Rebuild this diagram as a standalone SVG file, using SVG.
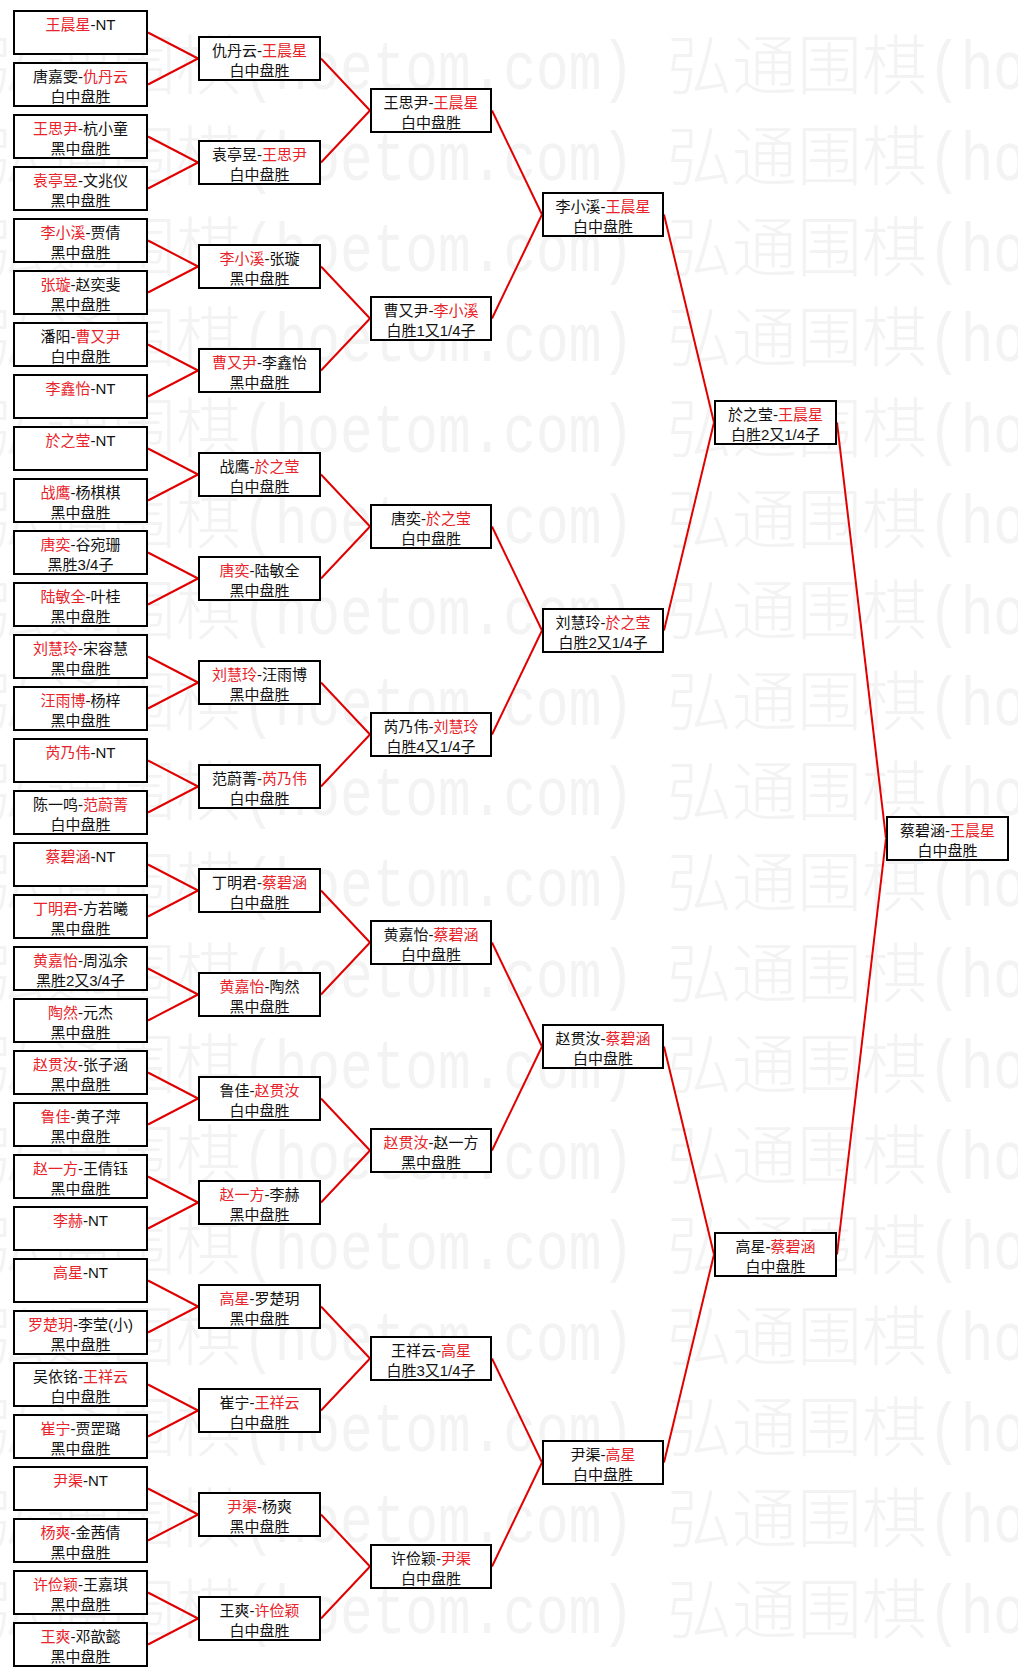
<svg xmlns="http://www.w3.org/2000/svg" xmlns:xlink="http://www.w3.org/1999/xlink" width="1018" height="1677" viewBox="0 0 1018 1677">
<style>
.b{fill:#fff;stroke:#000;stroke-width:2}
.t{font-family:'Liberation Sans','Noto Sans CJK SC',sans-serif;font-size:15px;fill:#111;text-anchor:middle}
.r{fill:#e8232a}
.wmc{font-family:'Noto Sans CJK SC',sans-serif;font-size:65px;font-weight:300;fill:#f3f3f3}
.wml{font-family:'Liberation Mono','Noto Sans CJK SC',monospace;font-size:68px;fill:#f3f3f3}
#connectors line{stroke:#e00000;stroke-width:2}
</style>
<defs>
<g id="wm">
<text class="wmc" x="-19" y="0">弘通围棋</text>
<text class="wml" x="242" y="0" textLength="392" lengthAdjust="spacingAndGlyphs">(hoetom.com)</text>
<text class="wmc" x="667" y="0">弘通围棋</text>
<text class="wml" x="928" y="0" textLength="392" lengthAdjust="spacingAndGlyphs">(hoetom.com)</text>
</g>
</defs>
<rect width="1018" height="1677" fill="#fff"/>
<g id="watermark">
<use xlink:href="#wm" y="89"/>
<use xlink:href="#wm" y="179.8"/>
<use xlink:href="#wm" y="270.6"/>
<use xlink:href="#wm" y="361.4"/>
<use xlink:href="#wm" y="452.2"/>
<use xlink:href="#wm" y="543"/>
<use xlink:href="#wm" y="633.8"/>
<use xlink:href="#wm" y="724.6"/>
<use xlink:href="#wm" y="815.4"/>
<use xlink:href="#wm" y="906.2"/>
<use xlink:href="#wm" y="997"/>
<use xlink:href="#wm" y="1087.8"/>
<use xlink:href="#wm" y="1178.6"/>
<use xlink:href="#wm" y="1269.4"/>
<use xlink:href="#wm" y="1360.2"/>
<use xlink:href="#wm" y="1451"/>
<use xlink:href="#wm" y="1541.8"/>
<use xlink:href="#wm" y="1632.6"/>
</g>
<g id="connectors">
<line x1="148" y1="32.5" x2="198" y2="58.5"/><line x1="148" y1="84.5" x2="198" y2="58.5"/>
<line x1="148" y1="136.5" x2="198" y2="162.5"/><line x1="148" y1="188.5" x2="198" y2="162.5"/>
<line x1="148" y1="240.5" x2="198" y2="266.5"/><line x1="148" y1="292.5" x2="198" y2="266.5"/>
<line x1="148" y1="344.5" x2="198" y2="370.5"/><line x1="148" y1="396.5" x2="198" y2="370.5"/>
<line x1="148" y1="448.5" x2="198" y2="474.5"/><line x1="148" y1="500.5" x2="198" y2="474.5"/>
<line x1="148" y1="552.5" x2="198" y2="578.5"/><line x1="148" y1="604.5" x2="198" y2="578.5"/>
<line x1="148" y1="656.5" x2="198" y2="682.5"/><line x1="148" y1="708.5" x2="198" y2="682.5"/>
<line x1="148" y1="760.5" x2="198" y2="786.5"/><line x1="148" y1="812.5" x2="198" y2="786.5"/>
<line x1="148" y1="864.5" x2="198" y2="890.5"/><line x1="148" y1="916.5" x2="198" y2="890.5"/>
<line x1="148" y1="968.5" x2="198" y2="994.5"/><line x1="148" y1="1020.5" x2="198" y2="994.5"/>
<line x1="148" y1="1072.5" x2="198" y2="1098.5"/><line x1="148" y1="1124.5" x2="198" y2="1098.5"/>
<line x1="148" y1="1176.5" x2="198" y2="1202.5"/><line x1="148" y1="1228.5" x2="198" y2="1202.5"/>
<line x1="148" y1="1280.5" x2="198" y2="1306.5"/><line x1="148" y1="1332.5" x2="198" y2="1306.5"/>
<line x1="148" y1="1384.5" x2="198" y2="1410.5"/><line x1="148" y1="1436.5" x2="198" y2="1410.5"/>
<line x1="148" y1="1488.5" x2="198" y2="1514.5"/><line x1="148" y1="1540.5" x2="198" y2="1514.5"/>
<line x1="148" y1="1592.5" x2="198" y2="1618.5"/><line x1="148" y1="1644.5" x2="198" y2="1618.5"/>
<line x1="321" y1="58.5" x2="370" y2="110.5"/><line x1="321" y1="162.5" x2="370" y2="110.5"/>
<line x1="321" y1="266.5" x2="370" y2="318.5"/><line x1="321" y1="370.5" x2="370" y2="318.5"/>
<line x1="321" y1="474.5" x2="370" y2="526.5"/><line x1="321" y1="578.5" x2="370" y2="526.5"/>
<line x1="321" y1="682.5" x2="370" y2="734.5"/><line x1="321" y1="786.5" x2="370" y2="734.5"/>
<line x1="321" y1="890.5" x2="370" y2="942.5"/><line x1="321" y1="994.5" x2="370" y2="942.5"/>
<line x1="321" y1="1098.5" x2="370" y2="1150.5"/><line x1="321" y1="1202.5" x2="370" y2="1150.5"/>
<line x1="321" y1="1306.5" x2="370" y2="1358.5"/><line x1="321" y1="1410.5" x2="370" y2="1358.5"/>
<line x1="321" y1="1514.5" x2="370" y2="1566.5"/><line x1="321" y1="1618.5" x2="370" y2="1566.5"/>
<line x1="492" y1="110.5" x2="542" y2="214.5"/><line x1="492" y1="318.5" x2="542" y2="214.5"/>
<line x1="492" y1="526.5" x2="542" y2="630.5"/><line x1="492" y1="734.5" x2="542" y2="630.5"/>
<line x1="492" y1="942.5" x2="542" y2="1046.5"/><line x1="492" y1="1150.5" x2="542" y2="1046.5"/>
<line x1="492" y1="1358.5" x2="542" y2="1462.5"/><line x1="492" y1="1566.5" x2="542" y2="1462.5"/>
<line x1="664" y1="214.5" x2="714" y2="422.5"/><line x1="664" y1="630.5" x2="714" y2="422.5"/>
<line x1="664" y1="1046.5" x2="714" y2="1254.5"/><line x1="664" y1="1462.5" x2="714" y2="1254.5"/>
<line x1="837" y1="422.5" x2="886" y2="838.5"/><line x1="837" y1="1254.5" x2="886" y2="838.5"/>
</g>
<g id="round1">
<g id="r1-00"><rect class="b" x="14" y="11" width="133" height="43"/><text class="t" x="80.5" y="30"><tspan class="r">王晨星</tspan>-NT</text></g>
<g id="r1-01"><rect class="b" x="14" y="63" width="133" height="43"/><text class="t" x="80.5" y="82">唐嘉雯-<tspan class="r">仇丹云</tspan></text><text class="t" x="80.5" y="102">白中盘胜</text></g>
<g id="r1-02"><rect class="b" x="14" y="115" width="133" height="43"/><text class="t" x="80.5" y="134"><tspan class="r">王思尹</tspan>-杭小童</text><text class="t" x="80.5" y="154">黑中盘胜</text></g>
<g id="r1-03"><rect class="b" x="14" y="167" width="133" height="43"/><text class="t" x="80.5" y="186"><tspan class="r">袁亭昱</tspan>-文兆仪</text><text class="t" x="80.5" y="206">黑中盘胜</text></g>
<g id="r1-04"><rect class="b" x="14" y="219" width="133" height="43"/><text class="t" x="80.5" y="238"><tspan class="r">李小溪</tspan>-贾倩</text><text class="t" x="80.5" y="258">黑中盘胜</text></g>
<g id="r1-05"><rect class="b" x="14" y="271" width="133" height="43"/><text class="t" x="80.5" y="290"><tspan class="r">张璇</tspan>-赵奕斐</text><text class="t" x="80.5" y="310">黑中盘胜</text></g>
<g id="r1-06"><rect class="b" x="14" y="323" width="133" height="43"/><text class="t" x="80.5" y="342">潘阳-<tspan class="r">曹又尹</tspan></text><text class="t" x="80.5" y="362">白中盘胜</text></g>
<g id="r1-07"><rect class="b" x="14" y="375" width="133" height="43"/><text class="t" x="80.5" y="394"><tspan class="r">李鑫怡</tspan>-NT</text></g>
<g id="r1-08"><rect class="b" x="14" y="427" width="133" height="43"/><text class="t" x="80.5" y="446"><tspan class="r">於之莹</tspan>-NT</text></g>
<g id="r1-09"><rect class="b" x="14" y="479" width="133" height="43"/><text class="t" x="80.5" y="498"><tspan class="r">战鹰</tspan>-杨棋棋</text><text class="t" x="80.5" y="518">黑中盘胜</text></g>
<g id="r1-10"><rect class="b" x="14" y="531" width="133" height="43"/><text class="t" x="80.5" y="550"><tspan class="r">唐奕</tspan>-谷宛珊</text><text class="t" x="80.5" y="570">黑胜3/4子</text></g>
<g id="r1-11"><rect class="b" x="14" y="583" width="133" height="43"/><text class="t" x="80.5" y="602"><tspan class="r">陆敏全</tspan>-叶桂</text><text class="t" x="80.5" y="622">黑中盘胜</text></g>
<g id="r1-12"><rect class="b" x="14" y="635" width="133" height="43"/><text class="t" x="80.5" y="654"><tspan class="r">刘慧玲</tspan>-宋容慧</text><text class="t" x="80.5" y="674">黑中盘胜</text></g>
<g id="r1-13"><rect class="b" x="14" y="687" width="133" height="43"/><text class="t" x="80.5" y="706"><tspan class="r">汪雨博</tspan>-杨梓</text><text class="t" x="80.5" y="726">黑中盘胜</text></g>
<g id="r1-14"><rect class="b" x="14" y="739" width="133" height="43"/><text class="t" x="80.5" y="758"><tspan class="r">芮乃伟</tspan>-NT</text></g>
<g id="r1-15"><rect class="b" x="14" y="791" width="133" height="43"/><text class="t" x="80.5" y="810">陈一鸣-<tspan class="r">范蔚菁</tspan></text><text class="t" x="80.5" y="830">白中盘胜</text></g>
<g id="r1-16"><rect class="b" x="14" y="843" width="133" height="43"/><text class="t" x="80.5" y="862"><tspan class="r">蔡碧涵</tspan>-NT</text></g>
<g id="r1-17"><rect class="b" x="14" y="895" width="133" height="43"/><text class="t" x="80.5" y="914"><tspan class="r">丁明君</tspan>-方若曦</text><text class="t" x="80.5" y="934">黑中盘胜</text></g>
<g id="r1-18"><rect class="b" x="14" y="947" width="133" height="43"/><text class="t" x="80.5" y="966"><tspan class="r">黄嘉怡</tspan>-周泓余</text><text class="t" x="80.5" y="986">黑胜2又3/4子</text></g>
<g id="r1-19"><rect class="b" x="14" y="999" width="133" height="43"/><text class="t" x="80.5" y="1018"><tspan class="r">陶然</tspan>-元杰</text><text class="t" x="80.5" y="1038">黑中盘胜</text></g>
<g id="r1-20"><rect class="b" x="14" y="1051" width="133" height="43"/><text class="t" x="80.5" y="1070"><tspan class="r">赵贯汝</tspan>-张子涵</text><text class="t" x="80.5" y="1090">黑中盘胜</text></g>
<g id="r1-21"><rect class="b" x="14" y="1103" width="133" height="43"/><text class="t" x="80.5" y="1122"><tspan class="r">鲁佳</tspan>-黄子萍</text><text class="t" x="80.5" y="1142">黑中盘胜</text></g>
<g id="r1-22"><rect class="b" x="14" y="1155" width="133" height="43"/><text class="t" x="80.5" y="1174"><tspan class="r">赵一方</tspan>-王倩钰</text><text class="t" x="80.5" y="1194">黑中盘胜</text></g>
<g id="r1-23"><rect class="b" x="14" y="1207" width="133" height="43"/><text class="t" x="80.5" y="1226"><tspan class="r">李赫</tspan>-NT</text></g>
<g id="r1-24"><rect class="b" x="14" y="1259" width="133" height="43"/><text class="t" x="80.5" y="1278"><tspan class="r">高星</tspan>-NT</text></g>
<g id="r1-25"><rect class="b" x="14" y="1311" width="133" height="43"/><text class="t" x="80.5" y="1330"><tspan class="r">罗楚玥</tspan>-李莹(小)</text><text class="t" x="80.5" y="1350">黑中盘胜</text></g>
<g id="r1-26"><rect class="b" x="14" y="1363" width="133" height="43"/><text class="t" x="80.5" y="1382">吴依铭-<tspan class="r">王祥云</tspan></text><text class="t" x="80.5" y="1402">白中盘胜</text></g>
<g id="r1-27"><rect class="b" x="14" y="1415" width="133" height="43"/><text class="t" x="80.5" y="1434"><tspan class="r">崔宁</tspan>-贾罡璐</text><text class="t" x="80.5" y="1454">黑中盘胜</text></g>
<g id="r1-28"><rect class="b" x="14" y="1467" width="133" height="43"/><text class="t" x="80.5" y="1486"><tspan class="r">尹渠</tspan>-NT</text></g>
<g id="r1-29"><rect class="b" x="14" y="1519" width="133" height="43"/><text class="t" x="80.5" y="1538"><tspan class="r">杨爽</tspan>-金茜倩</text><text class="t" x="80.5" y="1558">黑中盘胜</text></g>
<g id="r1-30"><rect class="b" x="14" y="1571" width="133" height="43"/><text class="t" x="80.5" y="1590"><tspan class="r">许俭颖</tspan>-王嘉琪</text><text class="t" x="80.5" y="1610">黑中盘胜</text></g>
<g id="r1-31"><rect class="b" x="14" y="1623" width="133" height="43"/><text class="t" x="80.5" y="1642"><tspan class="r">王爽</tspan>-邓歆懿</text><text class="t" x="80.5" y="1662">黑中盘胜</text></g>
</g>
<g id="round2">
<g id="r2-00"><rect class="b" x="199" y="37" width="121" height="43"/><text class="t" x="259.5" y="56">仇丹云-<tspan class="r">王晨星</tspan></text><text class="t" x="259.5" y="76">白中盘胜</text></g>
<g id="r2-01"><rect class="b" x="199" y="141" width="121" height="43"/><text class="t" x="259.5" y="160">袁亭昱-<tspan class="r">王思尹</tspan></text><text class="t" x="259.5" y="180">白中盘胜</text></g>
<g id="r2-02"><rect class="b" x="199" y="245" width="121" height="43"/><text class="t" x="259.5" y="264"><tspan class="r">李小溪</tspan>-张璇</text><text class="t" x="259.5" y="284">黑中盘胜</text></g>
<g id="r2-03"><rect class="b" x="199" y="349" width="121" height="43"/><text class="t" x="259.5" y="368"><tspan class="r">曹又尹</tspan>-李鑫怡</text><text class="t" x="259.5" y="388">黑中盘胜</text></g>
<g id="r2-04"><rect class="b" x="199" y="453" width="121" height="43"/><text class="t" x="259.5" y="472">战鹰-<tspan class="r">於之莹</tspan></text><text class="t" x="259.5" y="492">白中盘胜</text></g>
<g id="r2-05"><rect class="b" x="199" y="557" width="121" height="43"/><text class="t" x="259.5" y="576"><tspan class="r">唐奕</tspan>-陆敏全</text><text class="t" x="259.5" y="596">黑中盘胜</text></g>
<g id="r2-06"><rect class="b" x="199" y="661" width="121" height="43"/><text class="t" x="259.5" y="680"><tspan class="r">刘慧玲</tspan>-汪雨博</text><text class="t" x="259.5" y="700">黑中盘胜</text></g>
<g id="r2-07"><rect class="b" x="199" y="765" width="121" height="43"/><text class="t" x="259.5" y="784">范蔚菁-<tspan class="r">芮乃伟</tspan></text><text class="t" x="259.5" y="804">白中盘胜</text></g>
<g id="r2-08"><rect class="b" x="199" y="869" width="121" height="43"/><text class="t" x="259.5" y="888">丁明君-<tspan class="r">蔡碧涵</tspan></text><text class="t" x="259.5" y="908">白中盘胜</text></g>
<g id="r2-09"><rect class="b" x="199" y="973" width="121" height="43"/><text class="t" x="259.5" y="992"><tspan class="r">黄嘉怡</tspan>-陶然</text><text class="t" x="259.5" y="1012">黑中盘胜</text></g>
<g id="r2-10"><rect class="b" x="199" y="1077" width="121" height="43"/><text class="t" x="259.5" y="1096">鲁佳-<tspan class="r">赵贯汝</tspan></text><text class="t" x="259.5" y="1116">白中盘胜</text></g>
<g id="r2-11"><rect class="b" x="199" y="1181" width="121" height="43"/><text class="t" x="259.5" y="1200"><tspan class="r">赵一方</tspan>-李赫</text><text class="t" x="259.5" y="1220">黑中盘胜</text></g>
<g id="r2-12"><rect class="b" x="199" y="1285" width="121" height="43"/><text class="t" x="259.5" y="1304"><tspan class="r">高星</tspan>-罗楚玥</text><text class="t" x="259.5" y="1324">黑中盘胜</text></g>
<g id="r2-13"><rect class="b" x="199" y="1389" width="121" height="43"/><text class="t" x="259.5" y="1408">崔宁-<tspan class="r">王祥云</tspan></text><text class="t" x="259.5" y="1428">白中盘胜</text></g>
<g id="r2-14"><rect class="b" x="199" y="1493" width="121" height="43"/><text class="t" x="259.5" y="1512"><tspan class="r">尹渠</tspan>-杨爽</text><text class="t" x="259.5" y="1532">黑中盘胜</text></g>
<g id="r2-15"><rect class="b" x="199" y="1597" width="121" height="43"/><text class="t" x="259.5" y="1616">王爽-<tspan class="r">许俭颖</tspan></text><text class="t" x="259.5" y="1636">白中盘胜</text></g>
</g>
<g id="round3">
<g id="r3-0"><rect class="b" x="371" y="89" width="120" height="43"/><text class="t" x="431" y="108">王思尹-<tspan class="r">王晨星</tspan></text><text class="t" x="431" y="128">白中盘胜</text></g>
<g id="r3-1"><rect class="b" x="371" y="297" width="120" height="43"/><text class="t" x="431" y="316">曹又尹-<tspan class="r">李小溪</tspan></text><text class="t" x="431" y="336">白胜1又1/4子</text></g>
<g id="r3-2"><rect class="b" x="371" y="505" width="120" height="43"/><text class="t" x="431" y="524">唐奕-<tspan class="r">於之莹</tspan></text><text class="t" x="431" y="544">白中盘胜</text></g>
<g id="r3-3"><rect class="b" x="371" y="713" width="120" height="43"/><text class="t" x="431" y="732">芮乃伟-<tspan class="r">刘慧玲</tspan></text><text class="t" x="431" y="752">白胜4又1/4子</text></g>
<g id="r3-4"><rect class="b" x="371" y="921" width="120" height="43"/><text class="t" x="431" y="940">黄嘉怡-<tspan class="r">蔡碧涵</tspan></text><text class="t" x="431" y="960">白中盘胜</text></g>
<g id="r3-5"><rect class="b" x="371" y="1129" width="120" height="43"/><text class="t" x="431" y="1148"><tspan class="r">赵贯汝</tspan>-赵一方</text><text class="t" x="431" y="1168">黑中盘胜</text></g>
<g id="r3-6"><rect class="b" x="371" y="1337" width="120" height="43"/><text class="t" x="431" y="1356">王祥云-<tspan class="r">高星</tspan></text><text class="t" x="431" y="1376">白胜3又1/4子</text></g>
<g id="r3-7"><rect class="b" x="371" y="1545" width="120" height="43"/><text class="t" x="431" y="1564">许俭颖-<tspan class="r">尹渠</tspan></text><text class="t" x="431" y="1584">白中盘胜</text></g>
</g>
<g id="round4">
<g id="r4-0"><rect class="b" x="543" y="193" width="120" height="43"/><text class="t" x="603" y="212">李小溪-<tspan class="r">王晨星</tspan></text><text class="t" x="603" y="232">白中盘胜</text></g>
<g id="r4-1"><rect class="b" x="543" y="609" width="120" height="43"/><text class="t" x="603" y="628">刘慧玲-<tspan class="r">於之莹</tspan></text><text class="t" x="603" y="648">白胜2又1/4子</text></g>
<g id="r4-2"><rect class="b" x="543" y="1025" width="120" height="43"/><text class="t" x="603" y="1044">赵贯汝-<tspan class="r">蔡碧涵</tspan></text><text class="t" x="603" y="1064">白中盘胜</text></g>
<g id="r4-3"><rect class="b" x="543" y="1441" width="120" height="43"/><text class="t" x="603" y="1460">尹渠-<tspan class="r">高星</tspan></text><text class="t" x="603" y="1480">白中盘胜</text></g>
</g>
<g id="round5">
<g id="r5-0"><rect class="b" x="715" y="401" width="121" height="43"/><text class="t" x="775.5" y="420">於之莹-<tspan class="r">王晨星</tspan></text><text class="t" x="775.5" y="440">白胜2又1/4子</text></g>
<g id="r5-1"><rect class="b" x="715" y="1233" width="121" height="43"/><text class="t" x="775.5" y="1252">高星-<tspan class="r">蔡碧涵</tspan></text><text class="t" x="775.5" y="1272">白中盘胜</text></g>
</g>
<g id="final">
<g id="r6-0"><rect class="b" x="887" y="817" width="121" height="43"/><text class="t" x="947.5" y="836">蔡碧涵-<tspan class="r">王晨星</tspan></text><text class="t" x="947.5" y="856">白中盘胜</text></g>
</g>
</svg>
